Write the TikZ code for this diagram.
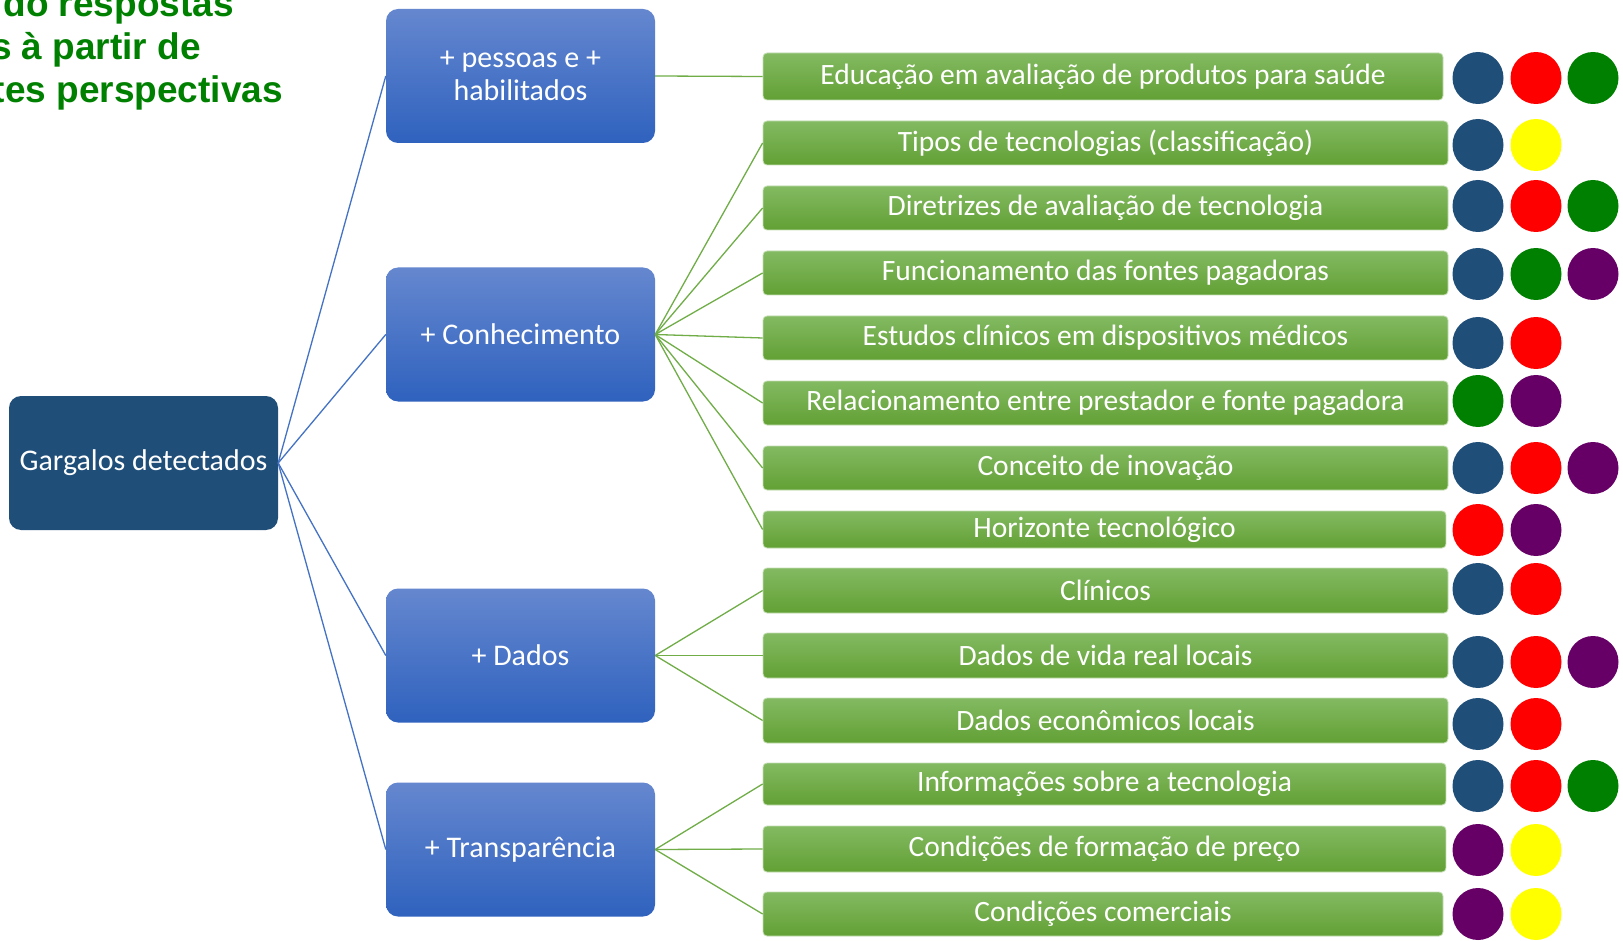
\documentclass[tikz,border=0pt]{standalone}
\usepackage{fontspec}
\setmainfont{Carlito}
\newfontfamily\titlefont{Liberation Sans}
\definecolor{rootblue}{RGB}{31,78,121}
\definecolor{boxtop}{RGB}{101,135,207}
\definecolor{boxbot}{RGB}{47,98,190}
\definecolor{bartop}{RGB}{131,186,98}
\definecolor{barbot}{RGB}{98,160,52}
\definecolor{barline}{RGB}{196,222,180}
\definecolor{bluelink}{RGB}{68,114,196}
\definecolor{greenlink}{RGB}{112,173,71}
\definecolor{titlegreen}{RGB}{0,128,0}
\definecolor{cblue}{RGB}{31,78,121}
\definecolor{cred}{RGB}{255,0,0}
\definecolor{cgreen}{RGB}{0,128,0}
\definecolor{cyellow}{RGB}{255,255,0}
\definecolor{cpurple}{RGB}{102,0,102}
\tikzset{
  rootbox/.style={fill=rootblue, rounded corners=12pt, text=white, inner sep=0pt,
    minimum width=269pt, minimum height=134pt, font=\fontsize{30}{33}\selectfont},
  bluebox/.style={top color=boxtop, bottom color=boxbot, rounded corners=12pt, text=white,
    inner sep=0pt, minimum width=269pt, minimum height=134pt, align=center,
    font=\fontsize{30}{33}\selectfont},
  barbox/.style={top color=bartop, bottom color=barbot, draw=barline, line width=0.8pt,
    rounded corners=4pt, text=white, inner sep=0pt, font=\fontsize{29.5}{33}\selectfont},
  titletext/.style={text=titlegreen, inner sep=0pt, anchor=base east,
    font=\titlefont\bfseries\fontsize{37}{43}\selectfont},
  bluelinkstyle/.style={draw=bluelink, line width=1.3pt},
  greenlinkstyle/.style={draw=greenlink, line width=1.3pt},
}
\newcommand\dotat[3]{\fill[#1] (#2,#3) ellipse [x radius=25.5pt, y radius=26pt];}
\begin{document}
\begin{tikzpicture}[x=1pt,y=-1pt]
\useasboundingbox (0,0) rectangle (1623,941);
\fill[white] (0,0) rectangle (1623,941);

% title (partially visible)
\node[titletext] (t1) at (234,17) {do respostas};
\node[titletext] (t2) at (201,60) {s à partir de};
\node[titletext] (t3) at (283,103) {tes perspectivas};

% root
\node[rootbox] (root) at (143.5,463) {Gargalos detectados};

% blue boxes
\node[bluebox] (b1) at (520.5,76) {+ pessoas e +\\habilitados};
\node[bluebox] (b2) at (520.5,334.5) {+ Conhecimento};
\node[bluebox] (b3) at (520.5,655.5) {+ Dados};
\node[bluebox] (b4) at (520.5,849.5) {+ Transparência};

% green bars
\node[barbox, minimum width=680pt, minimum height=47pt] (g1) at (1103,76.5) {Educação em avaliação de produtos para saúde};
\node[barbox, minimum width=685pt, minimum height=44pt] (g2) at (1105.5,143) {Tipos de tecnologias (classificação)};
\node[barbox, minimum width=685pt, minimum height=44pt] (g3) at (1105.5,208) {Diretrizes de avaliação de tecnologia};
\node[barbox, minimum width=685pt, minimum height=44pt] (g4) at (1105.5,273) {Funcionamento das fontes pagadoras};
\node[barbox, minimum width=685pt, minimum height=44pt] (g5) at (1105.5,338) {Estudos clínicos em dispositivos médicos};
\node[barbox, minimum width=685pt, minimum height=44pt] (g6) at (1105.5,403) {Relacionamento entre prestador e fonte pagadora};
\node[barbox, minimum width=685pt, minimum height=44pt] (g7) at (1105.5,468) {Conceito de inovação};
\node[barbox, minimum width=683pt, minimum height=37pt] (g8) at (1104.5,529.5) {Horizonte tecnológico};
\node[barbox, minimum width=685pt, minimum height=45pt] (g9) at (1105.5,590.5) {Clínicos};
\node[barbox, minimum width=685pt, minimum height=45pt] (g10) at (1105.5,655.5) {Dados de vida real locais};
\node[barbox, minimum width=685pt, minimum height=45pt] (g11) at (1105.5,720.5) {Dados econômicos locais};
\node[barbox, minimum width=683pt, minimum height=42pt] (g12) at (1104.5,784) {Informações sobre a tecnologia};
\node[barbox, minimum width=683pt, minimum height=46pt] (g13) at (1104.5,849) {Condições de formação de preço};
\node[barbox, minimum width=680pt, minimum height=44pt] (g14) at (1103,914) {Condições comerciais};

% connectors root -> blue boxes
\foreach \b in {b1,b2,b3,b4} \draw[bluelinkstyle] (root.east) -- (\b.west);
% connectors blue -> green
\draw[greenlinkstyle] (b1.east) -- (g1.west);
\foreach \g in {g2,g3,g4,g5,g6,g7,g8} \draw[greenlinkstyle] (b2.east) -- (\g.west);
\foreach \g in {g9,g10,g11} \draw[greenlinkstyle] (b3.east) -- (\g.west);
\foreach \g in {g12,g13,g14} \draw[greenlinkstyle] (b4.east) -- (\g.west);

% dots
\def\xa{1478}\def\xb{1536}\def\xc{1593}
\dotat{cblue}{\xa}{78}\dotat{cred}{\xb}{78}\dotat{cgreen}{\xc}{78}
\dotat{cblue}{\xa}{145}\dotat{cyellow}{\xb}{145}
\dotat{cblue}{\xa}{206}\dotat{cred}{\xb}{206}\dotat{cgreen}{\xc}{206}
\dotat{cblue}{\xa}{274}\dotat{cgreen}{\xb}{274}\dotat{cpurple}{\xc}{274}
\dotat{cblue}{\xa}{343}\dotat{cred}{\xb}{343}
\dotat{cgreen}{\xa}{401}\dotat{cpurple}{\xb}{401}
\dotat{cblue}{\xa}{468}\dotat{cred}{\xb}{468}\dotat{cpurple}{\xc}{468}
\dotat{cred}{\xa}{530}\dotat{cpurple}{\xb}{530}
\dotat{cblue}{\xa}{589}\dotat{cred}{\xb}{589}
\dotat{cblue}{\xa}{662}\dotat{cred}{\xb}{662}\dotat{cpurple}{\xc}{662}
\dotat{cblue}{\xa}{724}\dotat{cred}{\xb}{724}
\dotat{cblue}{\xa}{786}\dotat{cred}{\xb}{786}\dotat{cgreen}{\xc}{786}
\dotat{cpurple}{\xa}{850}\dotat{cyellow}{\xb}{850}
\dotat{cpurple}{\xa}{914}\dotat{cyellow}{\xb}{914}
\end{tikzpicture}
\end{document}
